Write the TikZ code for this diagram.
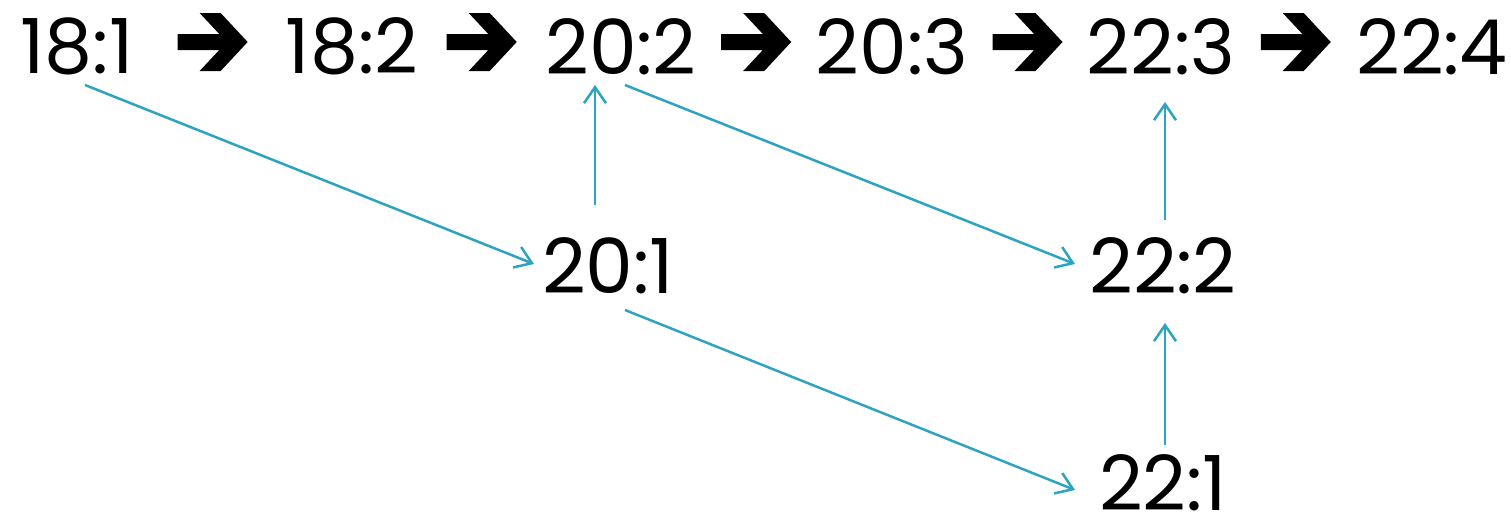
\documentclass[tikz,border=0pt]{standalone}
\usepackage{fontspec}
\setmainfont{Poppins}
\usetikzlibrary{arrows.meta,calc}
\definecolor{linkc}{RGB}{44,163,192}
\begin{document}
\begin{tikzpicture}[x=1pt,y=-1pt,
  lbl/.style={inner sep=0pt, font=\fontsize{76}{80}\selectfont},
  link/.style={draw=linkc, line width=2.5pt, -{Straight Barb[length=16pt,width=22pt,line width=2.5pt]}},
  bigarr/.pic={\fill[black] (-35,-8) -- (6.6,-8) -- (-13,-29) -- (8,-29) -- (35,0) -- (8,29) -- (-13,29) -- (6.6,8) -- (-35,8) -- cycle;}]
\useasboundingbox (0,0) rectangle (1511,517);
% top row
\node[lbl] (n181) at (77,46.5) {18:1};
\node[lbl] (n182) at (352,46.5) {18:2};
\node[lbl] (n202) at (621,46.5) {20:2};
\node[lbl] (n203) at (892,46.5) {20:3};
\node[lbl] (n223) at (1161,46.5) {22:3};
\node[lbl] (n224) at (1432,46.5) {22:4};
% lower rows
\node[lbl] (n201) at (608,266) {20:1};
\node[lbl] (n222) at (1163,266) {22:2};
\node[lbl] (n221) at (1163,483) {22:1};
% black arrows
\pic at ($($(n181.east)!0.5!(n182.west)$)+(3,-4.5)$) {bigarr};
\pic at ($($(n182.east)!0.5!(n202.west)$)+(0,-4.5)$) {bigarr};
\pic at ($($(n202.east)!0.5!(n203.west)$)+(0,-4.5)$) {bigarr};
\pic at ($($(n203.east)!0.5!(n223.west)$)+(0,-4.5)$) {bigarr};
\pic at ($($(n223.east)!0.5!(n224.west)$)+(0,-4.5)$) {bigarr};
% blue links
\draw[link] ([shift={(8,38.5)}]n181.center) -- ([shift={(-74,-2)}]n201.center);
\draw[link] ([shift={(-13,-61)}]n201.center) -- ([shift={(-26,38.5)}]n202.center);
\draw[link] ([shift={(4,38.5)}]n202.center) -- ([shift={(-88,-2)}]n222.center);
\draw[link] ([shift={(17,44)}]n201.center) -- ([shift={(-88,7)}]n221.center);
\draw[link] ([shift={(2,-38)}]n221.center) -- ([shift={(2,57)}]n222.center);
\draw[link] ([shift={(2,-46)}]n222.center) -- ([shift={(4,55.5)}]n223.center);
\end{tikzpicture}
\end{document}
